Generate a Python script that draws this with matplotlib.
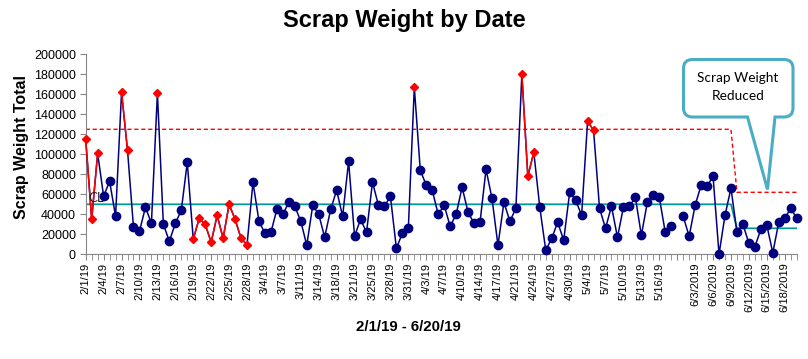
import numpy as np
import matplotlib
matplotlib.use("Agg")
import matplotlib.pyplot as plt
from matplotlib.path import Path
from matplotlib.patches import PathPatch

# daily scrap weight, one value per category (None = no data)
scrap = [115000, 35000, 101000, 58000, 73000, 38000, 162000, 104000, 27000, 23000,
         47000, 31000, 161000, 30000, 13000, 31000, 44000, 92000, 15000, 36000,
         30000, 12000, 39000, 16000, 50000, 35000, 16000, 9500, 72000, 33000,
         21000, 22000, 45000, 40000, 52000, 48000, 33000, 9000, 49000, 40000,
         17000, 45000, 64000, 38000, 93000, 18000, 35000, 22000, 72000, 49000,
         48000, 58000, 6000, 21000, 26000, 167000, 84000, 69000, 64000, 40000,
         49000, 28000, 40000, 67000, 42000, 31000, 32000, 85000, 56000, 9000,
         52000, 33000, 46000, 180000, 78000, 102000, 47000, 4000, 16000, 32000,
         14000, 62000, 54000, 39000, 133000, 124000, 46000, 26000, 48000, 17000,
         47000, 48000, 57000, 19000, 52000, 59000, 57000, 22000, 28000, None,
         38000, 18000, 49000, 69000, 68000, 78000, 0, 39000, 66000, 22000,
         30000, 11000, 7500, 25000, 29000, 1500, 32000, 36000, 46000, 36000]

# points flagged out of control (red diamonds)
flagged = [0, 1, 2, 6, 7, 12, 18, 19, 20, 21, 22, 23, 24, 25, 26, 27,
           55, 73, 74, 75, 84, 85]

# centre line and upper control limit, before / after the change
cl_before, cl_after = 50000, 26000
ucl_before, ucl_after = 125000, 62000
n_before = 109

tick_labels = ["2/1/19", "2/4/19", "2/7/19", "2/10/19", "2/13/19", "2/16/19",
               "2/19/19", "2/22/19", "2/25/19", "2/28/19", "3/4/19", "3/7/19",
               "3/11/19", "3/14/19", "3/18/19", "3/21/19", "3/25/19", "3/28/19",
               "3/31/19", "4/3/19", "4/7/19", "4/10/19", "4/14/19", "4/17/19",
               "4/21/19", "4/24/19", "4/27/19", "4/30/19", "5/4/19", "5/7/19",
               "5/10/19", "5/13/19", "5/16/19", "", "6/3/2019", "6/6/2019",
               "6/9/2019", "6/12/2019", "6/15/2019", "6/18/2019"]

W, H = 808, 359
navy = "#00007F"
red = "#FF0000"
teal = "#009C9C"
axis_gray = "#868686"

y = np.array([np.nan if v is None else v for v in scrap], dtype=float)
x = np.arange(len(y))
is_red = np.zeros(len(y), dtype=bool)
is_red[flagged] = True

y_blue = np.where(is_red, np.nan, y)
y_red = np.where(is_red, y, np.nan)
cl = np.array([cl_before] * n_before + [cl_after] * (len(y) - n_before))
ucl = np.array([ucl_before] * n_before + [ucl_after] * (len(y) - n_before))

fig = plt.figure(figsize=(W / 100, H / 100), dpi=100)
ax = fig.add_axes([85.7 / W, 1 - 254.3 / H, (796.7 - 85.7) / W, 200 / H])

ax.plot(x, ucl, color=red, lw=1.0, ls=(0, (3, 2)))
ax.plot(x, cl, color=teal, lw=1.3)
ax.plot(x, y, color=navy, lw=1.1, clip_on=False, zorder=3)
ax.plot(x, y_blue, ls="none", marker="o", ms=6, color=navy, clip_on=False, zorder=3)
ax.plot(x, y_red, color=red, lw=1.1, marker="D", ms=4.2, clip_on=False, zorder=3)

ax.text(1.7, 56500, "CL", fontsize=9.5, family="Lato", color="#222222",
        ha="center", va="center", zorder=4)

ax.set_xlim(0, len(y) - 1)
ax.set_ylim(0, 200000)
ax.set_yticks(np.arange(0, 200001, 20000))
ax.set_xticks(x, minor=True)
ax.set_xticks(x[::3])
ax.set_xticklabels(tick_labels, rotation=90, fontsize=8, family="Liberation Sans")
for lab in ax.get_yticklabels():
    lab.set_fontsize(9)
    lab.set_family("Liberation Sans")
ax.tick_params(axis="x", which="both", length=4, color=axis_gray, pad=2)
ax.tick_params(axis="y", length=4, color=axis_gray, pad=3)
for s in ["top", "right"]:
    ax.spines[s].set_visible(False)
for s in ["left", "bottom"]:
    ax.spines[s].set_color(axis_gray)

fig.text(0.5, 1 - 20 / H, "Scrap Weight by Date", ha="center", va="center",
         fontsize=17, fontweight="bold", family="Liberation Sans")
fig.text(22 / W, 1 - 147 / H, "Scrap Weight Total", rotation=90, ha="center",
         va="center", fontsize=11.5, fontweight="bold", family="Liberation Sans")
fig.text(408 / W, 1 - 327 / H, "2/1/19 - 6/20/19", ha="center", va="center",
         fontsize=10.8, fontweight="bold", family="Liberation Sans")

# callout box
x0, x1, top, bot, r = 683.5, 793, H - 59.5, H - 117, 9
verts = [(x0 + r, top), (x1 - r, top), (x1, top), (x1, top - r), (x1, bot + r),
         (x1, bot), (x1 - r, bot), (775, bot), (767.5, H - 189.5), (747.5, bot),
         (x0 + r, bot), (x0, bot), (x0, bot + r), (x0, top - r), (x0, top),
         (x0 + r, top), (x0 + r, top)]
codes = [Path.MOVETO, Path.LINETO, Path.CURVE3, Path.CURVE3, Path.LINETO,
         Path.CURVE3, Path.CURVE3, Path.LINETO, Path.LINETO, Path.LINETO,
         Path.LINETO, Path.CURVE3, Path.CURVE3, Path.LINETO, Path.CURVE3,
         Path.CURVE3, Path.CLOSEPOLY]
verts = [(vx / W, vy / H) for vx, vy in verts]
fig.patches.append(PathPatch(Path(verts, codes), transform=fig.transFigure,
                             facecolor="white", edgecolor="#4BACC6", lw=2.2,
                             zorder=5))
fig.text(738 / W, 1 - 87 / H, "Scrap Weight\nReduced", ha="center", va="center",
         fontsize=9.8, family="Lato", linespacing=1.55, zorder=6)

fig.savefig("out.png", dpi=100)
